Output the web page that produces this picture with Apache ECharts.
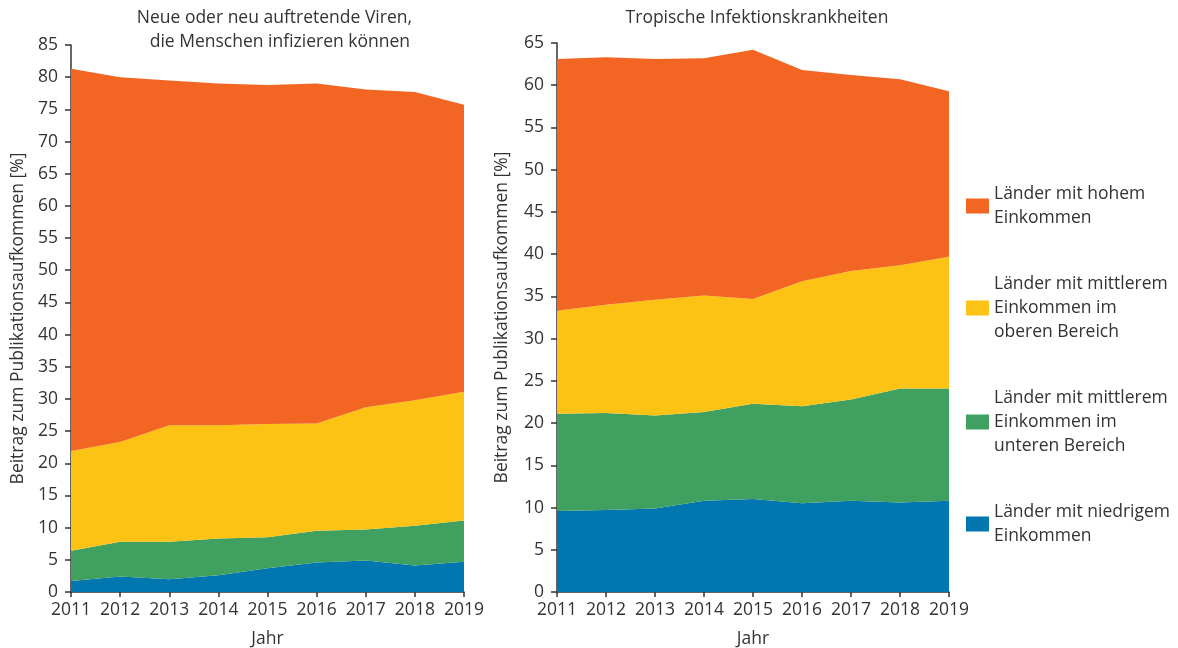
<!DOCTYPE html>
<html>
<head>
<meta charset="utf-8">
<script src="https://cdn.jsdelivr.net/npm/echarts@6/dist/echarts.min.js"></script>
<style>
  html, body { margin: 0; padding: 0; background: #fff; }
  #chart { width: 1178px; height: 648px; }
</style>
</head>
<body>
<div id="chart"></div>
<script>
// Years on the horizontal axis
const years = ['2011', '2012', '2013', '2014', '2015', '2016', '2017', '2018', '2019'];

// Income groups (legend order, top to bottom)
const groupHigh = 'Länder mit hohem\nEinkommen';
const groupUpperMid = 'Länder mit mittlerem\nEinkommen im\noberen Bereich';
const groupLowerMid = 'Länder mit mittlerem\nEinkommen im\nunteren Bereich';
const groupLow = 'Länder mit niedrigem\nEinkommen';

// Panel titles
const titleViruses = ['Neue oder neu auftretende Viren,', 'die Menschen infizieren können'];
const titleTropical = 'Tropische Infektionskrankheiten';

// Share of publications [%] – new or emerging viruses
const virusLow      = [1.7, 2.4, 2.0, 2.6, 3.7, 4.6, 4.9, 4.1, 4.7];
const virusLowerMid = [4.7, 5.4, 5.8, 5.7, 4.8, 4.9, 4.8, 6.2, 6.4];
const virusUpperMid = [15.5, 15.5, 18.1, 17.6, 17.6, 16.7, 19.0, 19.5, 20.0];
const virusHigh     = [59.4, 56.7, 53.6, 53.1, 52.7, 52.8, 49.4, 47.9, 44.6];

// Share of publications [%] – tropical infectious diseases
const tropLow      = [9.6, 9.7, 9.9, 10.8, 11.0, 10.5, 10.8, 10.6, 10.8];
const tropLowerMid = [11.5, 11.5, 11.0, 10.5, 11.3, 11.5, 12.0, 13.5, 13.3];
const tropUpperMid = [12.2, 12.8, 13.7, 13.8, 12.4, 14.8, 15.2, 14.6, 15.6];
const tropHigh     = [29.8, 29.3, 28.5, 28.1, 29.5, 25.0, 23.2, 22.0, 19.6];

const FONT = '"Open Sans", "Noto Sans", sans-serif';
const FS = 17.5;
const TEXT = '#333333';
const AXIS = '#333333';
const colors = {
  high: '#F26522',
  upperMid: '#FCC214',
  lowerMid: '#3FA05F',
  low: '#0176AF'
};

function xAxis(gridIndex) {
  return {
    type: 'category',
    gridIndex,
    data: years,
    boundaryGap: false,
    name: 'Jahr',
    nameLocation: 'middle',
    nameGap: 38,
    nameTextStyle: { color: TEXT, fontSize: FS, fontFamily: FONT },
    axisLine: { lineStyle: { color: AXIS, width: 1.5 } },
    axisTick: { show: true, length: 5, alignWithLabel: true, lineStyle: { color: AXIS, width: 1.5 } },
    axisLabel: { color: TEXT, fontSize: FS, fontFamily: FONT, margin: 9, interval: 0 },
    splitLine: { show: false }
  };
}

function yAxis(gridIndex, max, gap) {
  return {
    type: 'value',
    gridIndex,
    min: 0,
    max,
    interval: 5,
    name: 'Beitrag zum Publikationsaufkommen [%]',
    nameLocation: 'middle',
    nameGap: gap,
    nameTextStyle: { color: TEXT, fontSize: FS, fontFamily: FONT },
    axisLine: { show: true, lineStyle: { color: AXIS, width: 1.5 } },
    axisTick: { show: true, length: 6, lineStyle: { color: AXIS, width: 1.5 } },
    axisLabel: { color: TEXT, fontSize: FS, fontFamily: FONT, margin: 13 },
    splitLine: { show: false }
  };
}

function area(name, data, color, idx, stack) {
  return {
    type: 'line',
    name,
    data,
    xAxisIndex: idx,
    yAxisIndex: idx,
    stack,
    symbol: 'none',
    lineStyle: { width: 0 },
    areaStyle: { color, opacity: 1 },
    itemStyle: { color },
    emphasis: { disabled: true }
  };
}

function titleText(text, x, y, align) {
  return {
    type: 'text',
    x,
    y,
    silent: true,
    style: {
      text,
      fill: TEXT,
      font: FS + 'px ' + FONT,
      align,
      verticalAlign: 'middle'
    }
  };
}

const chart = echarts.init(document.getElementById('chart'), null, { renderer: 'canvas' });

chart.setOption({
  animation: false,
  backgroundColor: '#ffffff',
  graphic: [
    titleText(titleViruses[0], 412, 18, 'right'),
    titleText(titleViruses[1], 410, 42, 'right'),
    titleText(titleTropical, 757, 18, 'center')
  ],
  legend: {
    orient: 'vertical',
    left: 966,
    top: 182,
    padding: 0,
    itemWidth: 23,
    itemHeight: 15,
    itemGap: 42,
    itemTextGap: 6,
    icon: 'rect',
    selectedMode: false,
    data: [groupHigh, groupUpperMid, groupLowerMid, groupLow],
    textStyle: { color: TEXT, fontSize: FS, fontFamily: FONT, lineHeight: 24 }
  },
  grid: [
    { left: 71, right: 714, top: 45, bottom: 56, outerBoundsMode: 'none', containLabel: false },
    { left: 557, right: 229, top: 43, bottom: 56, outerBoundsMode: 'none', containLabel: false }
  ],
  xAxis: [xAxis(0), xAxis(1)],
  yAxis: [yAxis(0, 85, 44), yAxis(1, 65, 46)],
  series: [
    area(groupLow, virusLow, colors.low, 0, 'viren'),
    area(groupLowerMid, virusLowerMid, colors.lowerMid, 0, 'viren'),
    area(groupUpperMid, virusUpperMid, colors.upperMid, 0, 'viren'),
    area(groupHigh, virusHigh, colors.high, 0, 'viren'),
    area(groupLow, tropLow, colors.low, 1, 'tropen'),
    area(groupLowerMid, tropLowerMid, colors.lowerMid, 1, 'tropen'),
    area(groupUpperMid, tropUpperMid, colors.upperMid, 1, 'tropen'),
    area(groupHigh, tropHigh, colors.high, 1, 'tropen')
  ]
});
</script>
</body>
</html>
